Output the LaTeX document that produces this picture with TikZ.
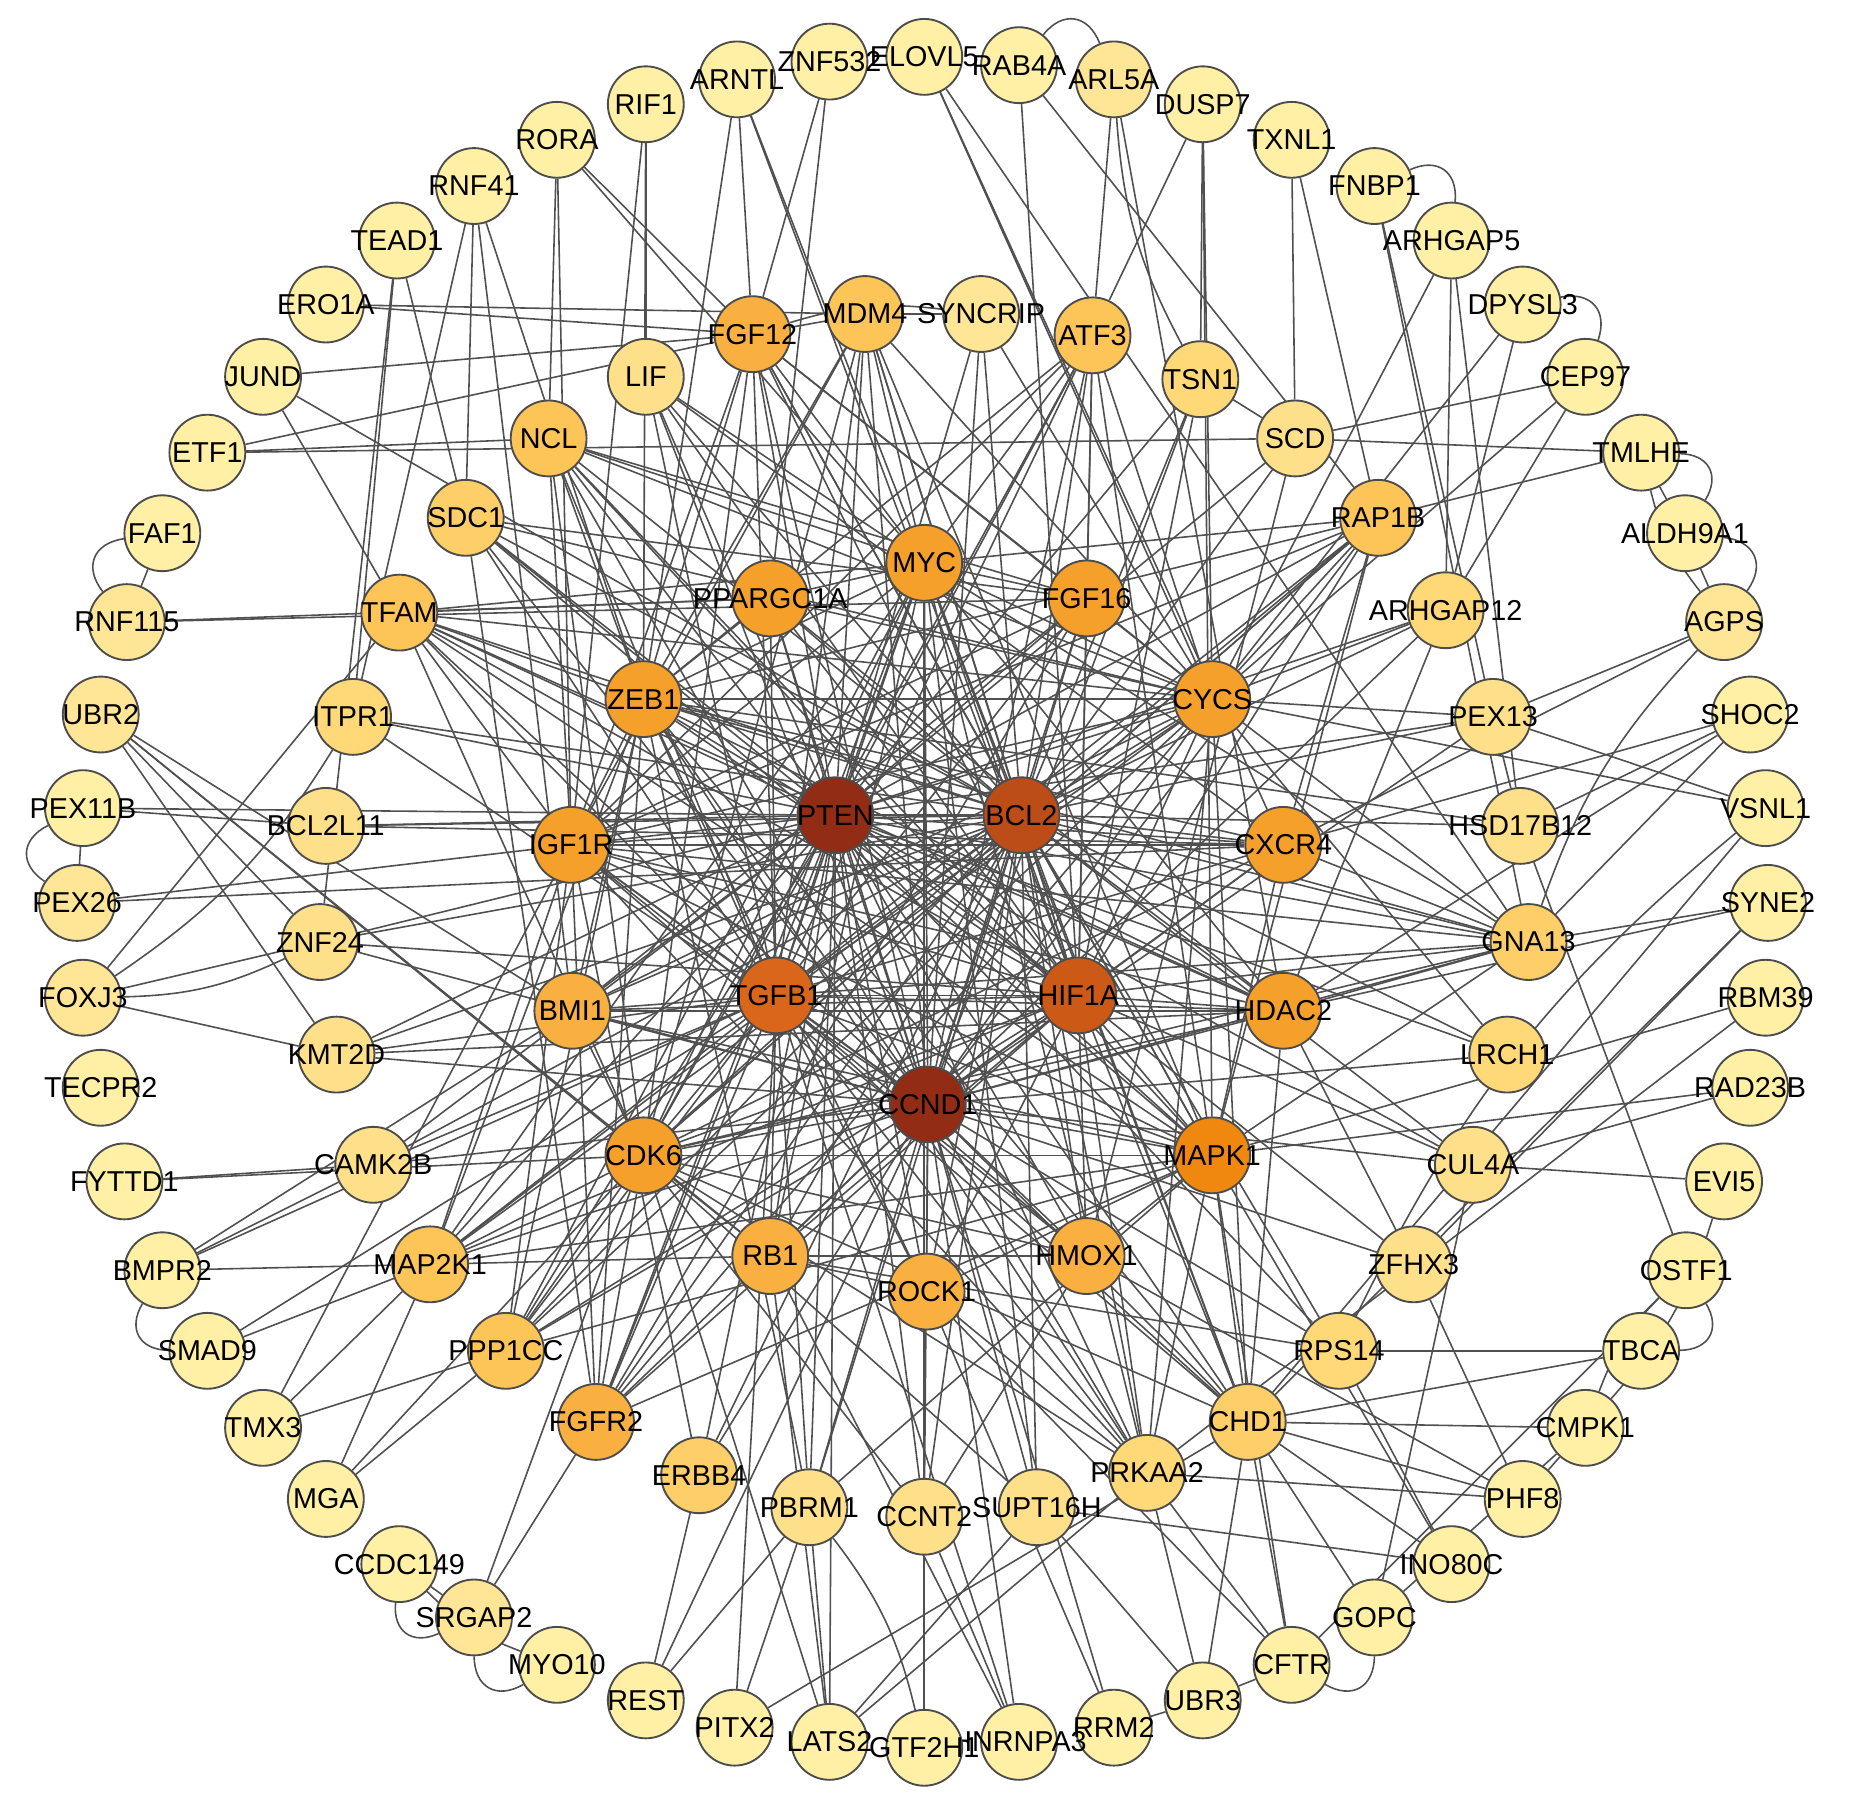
\documentclass[tikz,border=0pt]{standalone}
\usepackage{fontspec}
\setmainfont{Liberation Sans}
\usetikzlibrary{backgrounds}
\definecolor{pale}{HTML}{FFF0A6}
\definecolor{paleB}{HTML}{FFE696}
\definecolor{lightA}{HTML}{FFE08A}
\definecolor{lightB}{HTML}{FFD878}
\definecolor{lightC}{HTML}{FECE68}
\definecolor{midA}{HTML}{FDC458}
\definecolor{midB}{HTML}{F9B040}
\definecolor{deepA}{HTML}{F5A02A}
\definecolor{deepB}{HTML}{F08810}
\definecolor{hubD}{HTML}{D9661A}
\definecolor{hubC}{HTML}{CC5A16}
\definecolor{hubB}{HTML}{BC4C18}
\definecolor{hubA}{HTML}{922C14}
\definecolor{linkgray}{HTML}{505050}

\begin{document}
\begin{tikzpicture}[x=0.01cm, y=-0.01cm,
  every node/.style={font=\fontsize{6.9}{7}\selectfont},
  gene/.style={circle, draw=black!70, line width=0.45pt, minimum size=0.64cm, inner sep=0pt,
    execute at begin node={\hbox to 0pt\bgroup\hss}, execute at end node={\hss\egroup}},
  link/.style={draw=linkgray, line width=0.38pt},
]
\useasboundingbox (0,0) rectangle (1568,1518);

% hubs
\node[gene, fill=hubA] (PTEN) at (705,688) {PTEN};
\node[gene, fill=hubB] (BCL2) at (862,688) {BCL2};
\node[gene, fill=hubD] (TGFB1) at (655,840) {TGFB1};
\node[gene, fill=hubC] (HIF1A) at (910,840) {HIF1A};
\node[gene, fill=hubA] (CCND1) at (783,932) {CCND1};

% inner ring
\node[gene, fill=deepA] (MYC) at (780,475) {MYC};
\node[gene, fill=deepA] (FGF16) at (917,505) {FGF16};
\node[gene, fill=deepA] (CYCS) at (1023,590) {CYCS};
\node[gene, fill=deepA] (CXCR4) at (1083,713) {CXCR4};
\node[gene, fill=deepA] (HDAC2) at (1083,853) {HDAC2};
\node[gene, fill=deepB] (MAPK1) at (1023,975) {MAPK1};
\node[gene, fill=midB] (HMOX1) at (917,1060) {HMOX1};
\node[gene, fill=midB] (ROCK1) at (782,1090) {ROCK1};
\node[gene, fill=midB] (RB1) at (650,1060) {RB1};
\node[gene, fill=deepA] (CDK6) at (543,975) {CDK6};
\node[gene, fill=midB] (BMI1) at (483,853) {BMI1};
\node[gene, fill=deepA] (IGF1R) at (482,713) {IGF1R};
\node[gene, fill=deepA] (ZEB1) at (543,590) {ZEB1};
\node[gene, fill=deepA] (PPARGC1A) at (650,505) {PPARGC1A};

% middle ring
\node[gene, fill=paleB] (SYNCRIP) at (828,265) {SYNCRIP};
\node[gene, fill=midA] (ATF3) at (922,283) {ATF3};
\node[gene, fill=lightB] (TSN1) at (1013,320) {TSN1};
\node[gene, fill=lightA] (SCD) at (1093,370) {SCD};
\node[gene, fill=midA] (RAP1B) at (1163,437) {RAP1B};
\node[gene, fill=lightB] (ARHGAP12) at (1220,515) {ARHGAP12};
\node[gene, fill=lightA] (PEX13) at (1260,605) {PEX13};
\node[gene, fill=lightA] (HSD17B12) at (1283,697) {HSD17B12};
\node[gene, fill=lightC] (GNA13) at (1290,795) {GNA13};
\node[gene, fill=lightB] (LRCH1) at (1272,890) {LRCH1};
\node[gene, fill=lightA] (CUL4A) at (1243,983) {CUL4A};
\node[gene, fill=lightA] (ZFHX3) at (1193,1067) {ZFHX3};
\node[gene, fill=lightB] (RPS14) at (1130,1140) {RPS14};
\node[gene, fill=lightC] (CHD1) at (1053,1200) {CHD1};
\node[gene, fill=lightB] (PRKAA2) at (968,1243) {PRKAA2};
\node[gene, fill=lightA] (SUPT16H) at (875,1272) {SUPT16H};
\node[gene, fill=lightA] (CCNT2) at (780,1280) {CCNT2};
\node[gene, fill=lightA] (PBRM1) at (683,1272) {PBRM1};
\node[gene, fill=lightC] (ERBB4) at (590,1245) {ERBB4};
\node[gene, fill=midB] (FGFR2) at (503,1200) {FGFR2};
\node[gene, fill=midA] (PPP1CC) at (427,1140) {PPP1CC};
\node[gene, fill=midA] (MAP2K1) at (363,1067) {MAP2K1};
\node[gene, fill=lightA] (CAMK2B) at (315,983) {CAMK2B};
\node[gene, fill=lightA] (KMT2D) at (284,890) {KMT2D};
\node[gene, fill=lightA] (ZNF24) at (270,795) {ZNF24};
\node[gene, fill=lightA] (BCL2L11) at (275,697) {BCL2L11};
\node[gene, fill=lightB] (ITPR1) at (298,605) {ITPR1};
\node[gene, fill=midA] (TFAM) at (337,517) {TFAM};
\node[gene, fill=lightC] (SDC1) at (393,437) {SDC1};
\node[gene, fill=midA] (NCL) at (463,370) {NCL};
\node[gene, fill=lightA] (LIF) at (545,318) {LIF};
\node[gene, fill=midB] (FGF12) at (635,282) {FGF12};
\node[gene, fill=midA] (MDM4) at (730,265) {MDM4};

% outer ring
\node[gene, fill=pale] (ELOVL5) at (780,48) {ELOVL5};
\node[gene, fill=pale] (RAB4A) at (860,55) {RAB4A};
\node[gene, fill=paleB] (ARL5A) at (940,67) {ARL5A};
\node[gene, fill=pale] (DUSP7) at (1015,88) {DUSP7};
\node[gene, fill=pale] (TXNL1) at (1090,118) {TXNL1};
\node[gene, fill=pale] (FNBP1) at (1160,157) {FNBP1};
\node[gene, fill=pale] (ARHGAP5) at (1225,203) {ARHGAP5};
\node[gene, fill=pale] (DPYSL3) at (1285,257) {DPYSL3};
\node[gene, fill=pale] (CEP97) at (1338,318) {CEP97};
\node[gene, fill=pale] (TMLHE) at (1385,382) {TMLHE};
\node[gene, fill=pale] (ALDH9A1) at (1422,450) {ALDH9A1};
\node[gene, fill=paleB] (AGPS) at (1455,525) {AGPS};
\node[gene, fill=pale] (SHOC2) at (1477,603) {SHOC2};
\node[gene, fill=pale] (VSNL1) at (1490,682) {VSNL1};
\node[gene, fill=pale] (SYNE2) at (1492,762) {SYNE2};
\node[gene, fill=pale] (RBM39) at (1490,842) {RBM39};
\node[gene, fill=pale] (RAD23B) at (1477,918) {RAD23B};
\node[gene, fill=pale] (EVI5) at (1455,997) {EVI5};
\node[gene, fill=pale] (OSTF1) at (1423,1072) {OSTF1};
\node[gene, fill=pale] (TBCA) at (1385,1140) {TBCA};
\node[gene, fill=pale] (CMPK1) at (1338,1205) {CMPK1};
\node[gene, fill=pale] (PHF8) at (1285,1265) {PHF8};
\node[gene, fill=pale] (INO80C) at (1225,1320) {INO80C};
\node[gene, fill=pale] (GOPC) at (1160,1365) {GOPC};
\node[gene, fill=pale] (CFTR) at (1090,1405) {CFTR};
\node[gene, fill=pale] (UBR3) at (1015,1435) {UBR3};
\node[gene, fill=pale] (RRM2) at (940,1458) {RRM2};
\node[gene, fill=pale] (HNRNPA3) at (860,1470) {HNRNPA3};
\node[gene, fill=pale] (GTF2H1) at (780,1475) {GTF2H1};
\node[gene, fill=pale] (LATS2) at (700,1470) {LATS2};
\node[gene, fill=pale] (PITX2) at (620,1458) {PITX2};
\node[gene, fill=pale] (REST) at (545,1435) {REST};
\node[gene, fill=pale] (MYO10) at (470,1405) {MYO10};
\node[gene, fill=paleB] (SRGAP2) at (400,1365) {SRGAP2};
\node[gene, fill=pale] (CCDC149) at (337,1320) {CCDC149};
\node[gene, fill=pale] (MGA) at (275,1265) {MGA};
\node[gene, fill=pale] (TMX3) at (222,1205) {TMX3};
\node[gene, fill=pale] (SMAD9) at (175,1140) {SMAD9};
\node[gene, fill=pale] (BMPR2) at (137,1072) {BMPR2};
\node[gene, fill=pale] (FYTTD1) at (105,997) {FYTTD1};
\node[gene, fill=pale] (TECPR2) at (85,918) {TECPR2};
\node[gene, fill=paleB] (FOXJ3) at (70,842) {FOXJ3};
\node[gene, fill=paleB] (PEX26) at (65,762) {PEX26};
\node[gene, fill=pale] (PEX11B) at (70,682) {PEX11B};
\node[gene, fill=paleB] (UBR2) at (85,603) {UBR2};
\node[gene, fill=paleB] (RNF115) at (107,525) {RNF115};
\node[gene, fill=pale] (FAF1) at (137,450) {FAF1};
\node[gene, fill=pale] (ETF1) at (175,382) {ETF1};
\node[gene, fill=pale] (JUND) at (222,318) {JUND};
\node[gene, fill=pale] (ERO1A) at (275,257) {ERO1A};
\node[gene, fill=pale] (TEAD1) at (335,203) {TEAD1};
\node[gene, fill=pale] (RNF41) at (400,157) {RNF41};
\node[gene, fill=pale] (RORA) at (470,118) {RORA};
\node[gene, fill=pale] (RIF1) at (545,88) {RIF1};
\node[gene, fill=pale] (ARNTL) at (622,67) {ARNTL};
\node[gene, fill=pale] (ZNF532) at (700,52) {ZNF532};

\begin{scope}[on background layer]
% hub core
\foreach \a/\b in {PTEN/BCL2, PTEN/TGFB1, PTEN/HIF1A, PTEN/CCND1, BCL2/TGFB1,
  BCL2/HIF1A, BCL2/CCND1, TGFB1/HIF1A, TGFB1/CCND1, HIF1A/CCND1}
  \draw[link] (\a) -- (\b);
\foreach \h in {PTEN,BCL2,TGFB1,HIF1A,CCND1}
  \foreach \t in {MYC,FGF16,CYCS,CXCR4,HDAC2,MAPK1,HMOX1,ROCK1,RB1,CDK6,BMI1,IGF1R,ZEB1,PPARGC1A,
    ATF3,FGF12,MDM4,NCL,TFAM,RAP1B,FGFR2,MAP2K1,PPP1CC,SDC1,PRKAA2,CHD1,GNA13,LIF}
    \draw[link] (\h) -- (\t);
\foreach \h in {PTEN,BCL2,CCND1}
  \foreach \t in {SYNCRIP,TSN1,ARHGAP12,PEX13,LRCH1,CUL4A,RPS14,CCNT2,PBRM1,ERBB4,
    CAMK2B,KMT2D,ITPR1,ZNF24}
    \draw[link] (\h) -- (\t);
\foreach \h in {MYC,CYCS,MAPK1,IGF1R,CDK6,ZEB1}
  \foreach \t in {FGF12,MDM4,NCL,TFAM,RAP1B,FGFR2,MAP2K1,PPP1CC,PRKAA2,CHD1,GNA13,ATF3}
    \draw[link] (\h) -- (\t);
% inner ring
\foreach \a/\b in {MYC/PPARGC1A, MYC/FGF16, MYC/CYCS, MYC/ZEB1, MYC/HDAC2, MYC/CDK6, MYC/RB1,
  MYC/IGF1R, FGF16/IGF1R, FGF16/FGF12, CYCS/BMI1, CYCS/IGF1R, CYCS/ZEB1, CXCR4/IGF1R,
  CXCR4/MAPK1, HDAC2/BMI1, HDAC2/ZEB1, MAPK1/IGF1R, MAPK1/CDK6, MAPK1/ROCK1, MAPK1/HMOX1,
  HMOX1/RB1, ROCK1/RB1, RB1/CDK6, CDK6/BMI1, BMI1/ZEB1, IGF1R/ZEB1, ZEB1/PPARGC1A,
  PPARGC1A/CYCS, HMOX1/IGF1R, ROCK1/ZEB1, BMI1/MAPK1, HDAC2/CDK6, CXCR4/CDK6,
  FGF16/CYCS, FGF16/BMI1, PPARGC1A/HDAC2, ZEB1/CXCR4, IGF1R/HDAC2, CDK6/HMOX1}
  \draw[link] (\a) -- (\b);
% middle ring
\foreach \a/\b in {SYNCRIP/MDM4, SYNCRIP/CYCS, ATF3/FGF16, TSN1/HIF1A, TSN1/SCD, SCD/PTEN,
  SCD/BCL2, SCD/HMOX1, RAP1B/CXCR4, ARHGAP12/CYCS, ARHGAP12/HDAC2, PEX13/CYCS,
  PEX13/HSD17B12, HSD17B12/ZEB1, HSD17B12/BCL2, GNA13/CXCR4, GNA13/HDAC2, LRCH1/CYCS,
  CUL4A/HIF1A, ZFHX3/HIF1A, ZFHX3/HDAC2, ZFHX3/CCND1, RPS14/RB1, CHD1/HDAC2, PRKAA2/ROCK1,
  SUPT16H/CCND1, SUPT16H/MYC, SUPT16H/BCL2, SUPT16H/CDK6, CCNT2/CDK6, CCNT2/MYC,
  CCNT2/HMOX1, PBRM1/TGFB1, PBRM1/ZEB1, PBRM1/MAPK1, ERBB4/IGF1R, FGFR2/FGF16, MAP2K1/RB1,
  CAMK2B/TGFB1, KMT2D/TGFB1, KMT2D/HDAC2, ZNF24/HIF1A, BCL2L11/BCL2, BCL2L11/PTEN,
  BCL2L11/CXCR4, TFAM/PPARGC1A, SDC1/FGF16, SDC1/FGFR2, SDC1/CYCS, NCL/FGF16, LIF/MYC,
  LIF/CXCR4, FGF12/MDM4, TFAM/HDAC2, SDC1/MAPK1, RAP1B/CDK6}
  \draw[link] (\a) -- (\b);
% outer ring
\foreach \a/\b in {ELOVL5/CYCS, ELOVL5/CXCR4, ELOVL5/GNA13, RAB4A/HIF1A, RAB4A/RAP1B,
  ARL5A/HDAC2, ARL5A/ATF3, DUSP7/ATF3, DUSP7/TSN1, DUSP7/MAPK1, DUSP7/CYCS, TXNL1/SCD,
  TXNL1/RAP1B, FNBP1/GNA13, FNBP1/PEX13, ARHGAP5/CYCS, ARHGAP5/ARHGAP12, ARHGAP5/HSD17B12,
  DPYSL3/CYCS, DPYSL3/ARHGAP12, CEP97/ARHGAP12, CEP97/SCD, CEP97/CYCS, TMLHE/SCD,
  TMLHE/RAP1B, ALDH9A1/AGPS, ALDH9A1/TMLHE, AGPS/PEX13, AGPS/CXCR4, SHOC2/HSD17B12,
  SHOC2/CXCR4, SHOC2/GNA13, SHOC2/HDAC2, VSNL1/PEX13, VSNL1/CYCS, VSNL1/CHD1, SYNE2/GNA13,
  SYNE2/HDAC2, SYNE2/CHD1, SYNE2/ZFHX3, RBM39/MAPK1, RBM39/PRKAA2, RAD23B/CUL4A,
  RAD23B/MAPK1, EVI5/CUL4A, OSTF1/HSD17B12, OSTF1/CFTR, TBCA/CHD1, TBCA/RPS14, CMPK1/PHF8,
  CMPK1/GOPC, CMPK1/CHD1, PHF8/CHD1, PHF8/PRKAA2, PHF8/HMOX1, PHF8/ZFHX3, INO80C/CHD1,
  INO80C/SUPT16H, INO80C/RPS14, INO80C/MAPK1, GOPC/CHD1, GOPC/CUL4A, CFTR/MAPK1, CFTR/CHD1,
  CFTR/PRKAA2, CFTR/ROCK1, UBR3/CFTR, UBR3/CHD1, UBR3/PRKAA2, UBR3/RRM2, UBR3/SUPT16H,
  RRM2/CCND1, RRM2/ROCK1, HNRNPA3/CCNT2, HNRNPA3/RB1, HNRNPA3/CCND1, HNRNPA3/TGFB1,
  GTF2H1/CCNT2, LATS2/PBRM1, LATS2/CDK6, LATS2/RB1, LATS2/PTEN, LATS2/SUPT16H,
  LATS2/PRKAA2, PITX2/PBRM1, PITX2/TGFB1, PITX2/CHD1, REST/ERBB4, REST/PBRM1, REST/CCND1,
  SRGAP2/CCDC149, SRGAP2/FGFR2, SRGAP2/CDK6, MGA/MAP2K1, MGA/PPP1CC, MGA/CDK6,
  TMX3/PPP1CC, TMX3/MAP2K1, TMX3/IGF1R, SMAD9/TGFB1, SMAD9/MAP2K1, BMPR2/TGFB1,
  BMPR2/CAMK2B, BMPR2/MAP2K1, BMPR2/BMI1, FYTTD1/CDK6, FYTTD1/CAMK2B, FOXJ3/ZNF24,
  FOXJ3/TFAM, FOXJ3/KMT2D, PEX26/PEX11B, PEX26/IGF1R, PEX26/CXCR4, PEX11B/BCL2L11,
  PEX11B/PTEN, UBR2/ZNF24, UBR2/CDK6, UBR2/KMT2D, UBR2/RB1, UBR2/BMI1, RNF115/FAF1,
  RNF115/PPARGC1A, RNF115/FGF16, ETF1/NCL, ETF1/SCD, ETF1/FGF12, JUND/FGF12, JUND/TFAM,
  JUND/BCL2, ERO1A/FGF12, ERO1A/MDM4, TEAD1/SDC1, TEAD1/ZNF24, TEAD1/ITPR1, RNF41/ITPR1,
  RNF41/SDC1, RNF41/ZEB1, RNF41/BMI1, RORA/NCL, RORA/FGF12, RORA/IGF1R, RORA/MYC,
  RIF1/LIF, RIF1/ZEB1, RIF1/IGF1R, ARNTL/FGF12, ARNTL/MYC, ARNTL/ZEB1, ARNTL/HIF1A,
  ZNF532/FGF12, ZNF532/PPARGC1A}
  \draw[link] (\a) -- (\b);
% curved links
\foreach \a/\b in {FAF1/RNF115, PEX11B/PEX26, ARL5A/RAB4A, ALDH9A1/TMLHE, AGPS/ALDH9A1,
  BMPR2/SMAD9, SRGAP2/MYO10, CCDC149/SRGAP2, CFTR/GOPC, TBCA/OSTF1,
  ARHGAP5/FNBP1, CEP97/DPYSL3}
  \draw[link] (\a) to[bend right=60, looseness=1.4] (\b);
\foreach \a/\b in {CCDC149/MYO10, FOXJ3/ZNF24, SYNCRIP/FGF12, AGPS/GNA13, VSNL1/RPS14,
  TMLHE/AGPS, ARL5A/TSN1, GTF2H1/PBRM1, FOXJ3/ITPR1, CMPK1/EVI5, OSTF1/CMPK1}
  \draw[link] (\a) to[bend right=12] (\b);
\end{scope}
\end{tikzpicture}
\end{document}
